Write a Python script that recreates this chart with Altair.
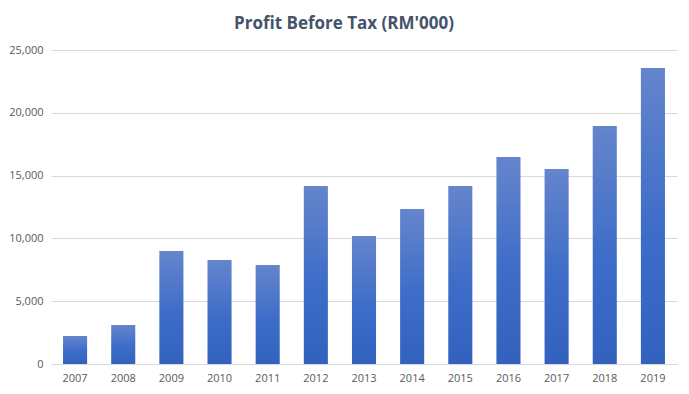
import altair as alt
import pandas as pd

years = ["2007", "2008", "2009", "2010", "2011", "2012", "2013",
         "2014", "2015", "2016", "2017", "2018", "2019"]
profit = [2230, 3100, 9000, 8280, 7880, 14170, 10190,
          12340, 14170, 16480, 15530, 18950, 23570]

df = pd.DataFrame({"year": years, "profit": profit})

grad = alt.Gradient(
    gradient="linear",
    x1=0, x2=0, y1=0, y2=1,
    stops=[
        alt.GradientStop(color="#6585CC", offset=0),
        alt.GradientStop(color="#3D6DC8", offset=0.55),
        alt.GradientStop(color="#3362BE", offset=1),
    ],
)

chart = (
    alt.Chart(df)
    .mark_bar(color=grad)
    .encode(
        x=alt.X(
            "year:N",
            sort=years,
            title=None,
            scale=alt.Scale(paddingInner=0.5, paddingOuter=0.25),
            axis=alt.Axis(
                labelAngle=0,
                labelFont="Open Sans",
                labelFontSize=11,
                labelColor="#595959",
                labelPadding=8,
                ticks=False,
                domainColor="#D9D9D9",
                domainWidth=1,
                grid=False,
            ),
        ),
        y=alt.Y(
            "profit:Q",
            title=None,
            scale=alt.Scale(domain=[0, 25000], nice=False),
            axis=alt.Axis(
                values=[0, 5000, 10000, 15000, 20000, 25000],
                format=",.0f",
                labelFont="Open Sans",
                labelFontSize=11,
                labelColor="#595959",
                labelPadding=8,
                ticks=False,
                domain=False,
                gridColor="#D9D9D9",
                gridWidth=1,
            ),
        ),
    )
    .properties(
        width=626,
        height=314,
        autosize=alt.AutoSizeParams(type="none"),
        padding={"left": 43, "top": 42, "right": 4, "bottom": 20},
        title=alt.TitleParams(
            "Profit Before Tax (RM'000)",
            font="Open Sans",
            fontSize=17,
            fontWeight="bold",
            color="#44546A",
            anchor="middle",
            dx=-20,
            offset=11,
        ),
    )
    .configure_view(stroke=None)
)

chart.save("out.html", embed_options={"renderer": "svg", "actions": False})
